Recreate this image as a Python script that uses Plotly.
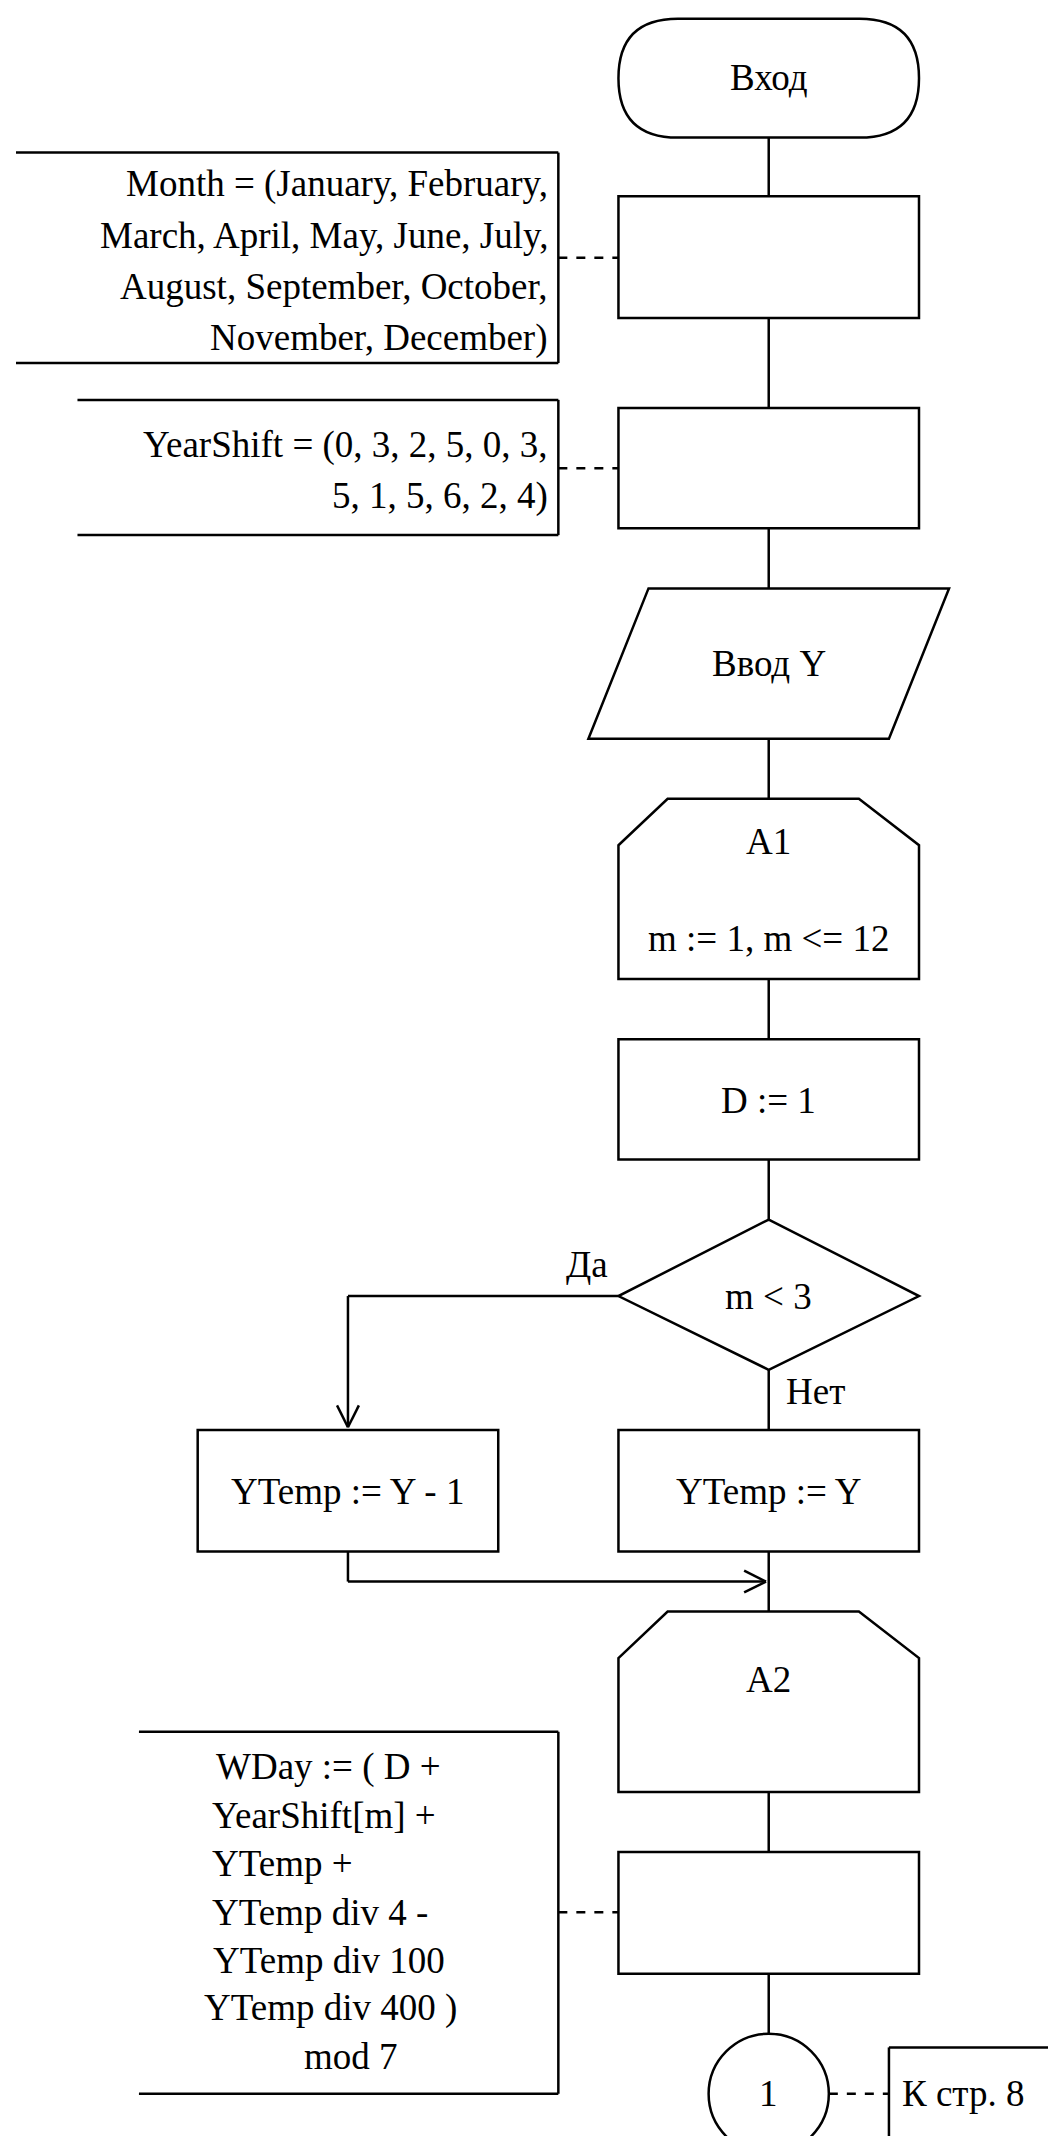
import plotly.graph_objects as go

S = 1056/773.0
FONT = dict(family="Liberation Serif, Times New Roman, serif", size=37, color="black")

box_labels = ["Вход", "", "", "Ввод Y", "", "D := 1", "m < 3", "YTemp := Y - 1", "YTemp := Y", "", "1"]
month_lines = ["Month = (January, February,", "March, April, May, June, July,", "August, September, October,", "November, December)"]
shift_lines = ["YearShift = (0, 3, 2, 5, 0, 3,", "5, 1, 5, 6, 2, 4)"]
wday_lines = ["WDay := ( D +", "YearShift[m] +", "YTemp +", "YTemp div 4 -", "YTemp div 100", "YTemp div 400 )", "mod 7"]
wday_x = [145, 142, 142, 142, 143, 136, None]

shapes = []
ann = []
LW = 2.5

def line(x0, y0, x1, y1, dash="solid"):
    shapes.append(dict(type="line", x0=x0, y0=y0, x1=x1, y1=y1, line=dict(color="black", width=LW, dash=dash)))

def path(d):
    shapes.append(dict(type="path", path=d, line=dict(color="black", width=LW)))

def rect(x0, y0, x1, y1):
    shapes.append(dict(type="rect", x0=x0, y0=y0, x1=x1, y1=y1, line=dict(color="black", width=LW)))

def text(x, y, t, anchor="center"):
    ann.append(dict(x=x, y=y, text=t, showarrow=False, font=FONT, xanchor=anchor, yanchor="middle"))

r = 43.5
path(f"M {441+r},2 L {661-r},2 Q 661,2 661,45.5 Q 661,89 {661-r},89 L {441+r},89 Q 441,89 441,45.5 Q 441,2 {441+r},2 Z")
text(551, 45, box_labels[0])
line(551, 89, 551, 132)
rect(441, 132, 661, 221)
line(0, 100, 397, 100); line(397, 100, 397, 254); line(0, 254, 397, 254)
line(397, 177, 441, 177, "dash")
for i, t in enumerate(month_lines):
    text(391, 123 + i*37.5, t, "right")
line(551, 221, 551, 287)
rect(441, 287, 661, 375)
line(45, 281, 397, 281); line(397, 281, 397, 380); line(45, 380, 397, 380)
line(397, 331, 441, 331, "dash")
for i, t in enumerate(shift_lines):
    text(391, 314 + i*37.5, t, "right")
line(551, 375, 551, 419)
path("M 463,419 L 683,419 L 639,529 L 419,529 Z")
text(551, 474, box_labels[3])
line(551, 529, 551, 573)
path("M 441,607 L 477,573 L 617,573 L 661,607 L 661,705 L 441,705 Z")
text(551, 604, "A1"); text(551, 675, "m := 1, m <= 12")
line(551, 705, 551, 749)
rect(441, 749, 661, 837)
text(551, 794, box_labels[5])
line(551, 837, 551, 881)
path("M 551,881 L 661,937 L 551,991 L 441,937 Z")
text(551, 937, box_labels[6])
text(418, 914, "Да")
line(441, 937, 243, 937); line(243, 937, 243, 1033)
line(243, 1033, 235, 1017); line(243, 1033, 251, 1017)
text(585, 1007, "Нет")
line(551, 991, 551, 1035)
rect(133, 1035, 353, 1124); text(243, 1080, box_labels[7])
rect(441, 1035, 661, 1124); text(551, 1080, box_labels[8])
line(243, 1124, 243, 1146); line(243, 1146, 549, 1146)
line(549, 1146, 533, 1138); line(549, 1146, 533, 1154)
line(551, 1124, 551, 1168)
path("M 441,1202 L 477,1168 L 617,1168 L 661,1202 L 661,1300 L 441,1300 Z")
text(551, 1218, "A2")
line(551, 1300, 551, 1344)
rect(441, 1344, 661, 1433)
line(90, 1256, 397, 1256); line(397, 1256, 397, 1521); line(90, 1521, 397, 1521)
line(397, 1388, 441, 1388, "dash")
for i, t in enumerate(wday_lines):
    y = 1282 + i*35.3
    if wday_x[i] is None:
        text(245, y, t)
    else:
        text(wday_x[i], y, t, "left")
line(551, 1433, 551, 1477)
shapes.append(dict(type="circle", x0=507, y0=1477, x1=595, y1=1565, line=dict(color="black", width=LW)))
text(551, 1521, box_labels[10])
line(595, 1521, 639, 1521, "dash")
line(639, 1487, 773, 1487); line(639, 1487, 639, 1554); line(639, 1554, 773, 1554)
text(693, 1521, "К стр. 8")

off = 8 / S
fig = go.Figure()
fig.update_layout(width=1056, height=2136, margin=dict(l=0, r=0, t=0, b=0),
                  plot_bgcolor="white", paper_bgcolor="white",
                  xaxis=dict(range=[-off, 773 - off], visible=False, fixedrange=True),
                  yaxis=dict(range=[2136 / S - off, -off], visible=False, fixedrange=True),
                  shapes=shapes, annotations=ann, showlegend=False)
fig.write_html("out.html")
